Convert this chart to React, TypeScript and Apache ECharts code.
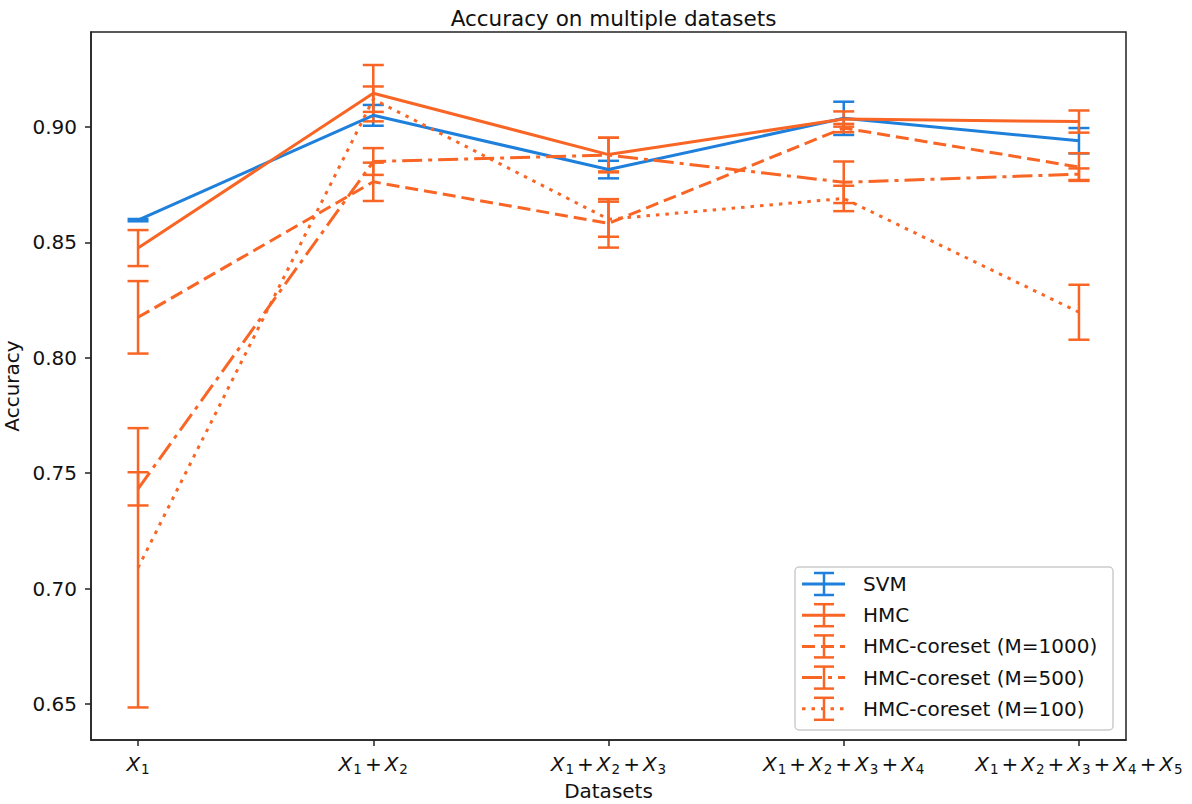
import React, { useEffect, useRef } from "react";
import * as echarts from "echarts";

const xIndex = [0, 1, 2, 3, 4];
const tickLabels = [
  "{x|X}{s|1}",
  "{x|X}{s|1}{p|+}{x|X}{s|2}",
  "{x|X}{s|1}{p|+}{x|X}{s|2}{p|+}{x|X}{s|3}",
  "{x|X}{s|1}{p|+}{x|X}{s|2}{p|+}{x|X}{s|3}{p|+}{x|X}{s|4}",
  "{x|X}{s|1}{p|+}{x|X}{s|2}{p|+}{x|X}{s|3}{p|+}{x|X}{s|4}{p|+}{x|X}{s|5}",
];
const yTicks = [0.65, 0.7, 0.75, 0.8, 0.85, 0.9];

const seriesNames = ["SVM", "HMC", "HMC-coreset (M=1000)", "HMC-coreset (M=500)", "HMC-coreset (M=100)"];

const svmMean = [0.8596, 0.905, 0.8815, 0.9037, 0.894];
const svmErr = [0.0005, 0.0045, 0.0038, 0.0072, 0.0055];
const hmcMean = [0.8475, 0.9146, 0.888, 0.9034, 0.9023];
const hmcErr = [0.0078, 0.0122, 0.0073, 0.0033, 0.0048];
const m1000Mean = [0.8175, 0.8762, 0.8582, 0.8995, 0.8826];
const m1000Err = [0.0157, 0.0083, 0.0105, 0.0018, 0.006];
const m500Mean = [0.7432, 0.885, 0.8878, 0.876, 0.8795];
const m500Err = [0.0072, 0.0058, 0.0075, 0.009, 0.0025];
const m100Mean = [0.709, 0.912, 0.86, 0.869, 0.8197];
const m100Err = [0.0605, 0.0055, 0.0076, 0.0055, 0.0119];

const BLUE = "#1f80dc";
const ORANGE = "#f96524";
const FONT = "DejaVu Sans";

const means = [svmMean, hmcMean, m1000Mean, m500Mean, m100Mean];
const errs = [svmErr, hmcErr, m1000Err, m500Err, m100Err];
const colors = [BLUE, ORANGE, ORANGE, ORANGE, ORANGE];
const dashes: any[] = ["solid", "solid", [13, 6], [20, 6, 4, 6], [3.5, 6]];

export default function App() {
  const ref = useRef<HTMLDivElement>(null);
  useEffect(() => {
    if (!ref.current) return;
    const chart = echarts.init(ref.current, null, { renderer: "svg" });
    const series: any[] = [];
    means.forEach((m, i) => {
      series.push({
        type: "line",
        name: seriesNames[i],
        data: xIndex.map((x, j) => [x, m[j]]),
        symbol: "none",
        lineStyle: { color: colors[i], width: 3, type: dashes[i], cap: "butt" },
        silent: true,
      });
      series.push({
        type: "custom",
        name: seriesNames[i] + " err",
        data: xIndex.map((x, j) => [x, m[j] - errs[i][j], m[j] + errs[i][j]]),
        encode: { x: 0, y: [1, 2] },
        silent: true,
        renderItem: (params: any, api: any) => {
          const x = api.value(0);
          const lo = api.coord([x, api.value(1)]);
          const hi = api.coord([x, api.value(2)]);
          const hw = 10.5;
          const st = { stroke: colors[i], lineWidth: 2.5 };
          return {
            type: "group",
            children: [
              { type: "line", shape: { x1: lo[0], y1: lo[1], x2: hi[0], y2: hi[1] }, style: st },
              { type: "line", shape: { x1: lo[0] - hw, y1: lo[1], x2: lo[0] + hw, y2: lo[1] }, style: st },
              { type: "line", shape: { x1: hi[0] - hw, y1: hi[1], x2: hi[0] + hw, y2: hi[1] }, style: st },
            ],
          };
        },
      });
    });

    const legendX = 795, legendY = 567, legendW = 318, legendH = 163;
    const legendChildren: any[] = [
      {
        type: "rect",
        shape: { x: legendX, y: legendY, width: legendW, height: legendH, r: 4 },
        style: { fill: "rgba(255,255,255,0.8)", stroke: "#cccccc", lineWidth: 1.5 },
      },
    ];
    seriesNames.forEach((n, i) => {
      const cy = 584 + i * 31.2;
      const st: any = { stroke: colors[i], lineWidth: 3 };
      if (dashes[i] !== "solid") st.lineDash = dashes[i];
      legendChildren.push({ type: "line", shape: { x1: 802, y1: cy, x2: 845, y2: cy }, style: st });
      const es = { stroke: colors[i], lineWidth: 2.5 };
      legendChildren.push({ type: "line", shape: { x1: 824, y1: cy - 11, x2: 824, y2: cy + 11 }, style: es });
      legendChildren.push({ type: "line", shape: { x1: 814, y1: cy - 11, x2: 834, y2: cy - 11 }, style: es });
      legendChildren.push({ type: "line", shape: { x1: 814, y1: cy + 11, x2: 834, y2: cy + 11 }, style: es });
      legendChildren.push({
        type: "text",
        style: { x: 863, y: cy, text: n, fontSize: 20, fontFamily: FONT, fill: "#111", verticalAlign: "middle", align: "left" },
      });
    });

    chart.setOption({
      animation: false,
      title: {
        text: "Accuracy on multiple datasets",
        left: 608.5,
        top: 2,
        textAlign: "center",
        textStyle: { fontSize: 21.5, fontWeight: "normal", color: "#111", fontFamily: FONT },
      },
      grid: {
        left: 91,
        top: 32,
        right: 66,
        bottom: 64,
        show: true,
        borderColor: "#222",
        borderWidth: 1.5,
        containLabel: false,
        outerBoundsMode: "none",
      },
      xAxis: {
        type: "value",
        min: -0.2,
        max: 4.2,
        name: "Datasets",
        nameLocation: "middle",
        nameGap: 40,
        nameTextStyle: { fontSize: 20, fontFamily: FONT, color: "#111" },
        axisLine: { show: true, onZero: false, lineStyle: { color: "#222", width: 1.5 } },
        axisTick: { show: true, customValues: xIndex, length: 6, lineStyle: { color: "#222", width: 1.5 } },
        splitLine: { show: false },
        axisLabel: {
          customValues: xIndex,
          margin: 12,
          formatter: (v: number) => tickLabels[Math.round(v)] ?? "",
          rich: {
            x: { fontSize: 20, fontStyle: "italic", fontFamily: FONT, color: "#111" },
            s: { fontSize: 13.5, fontFamily: FONT, color: "#111", padding: [10, 0, 0, 1] },
            p: { fontSize: 20, fontFamily: FONT, color: "#111", padding: [0, 3, 0, 3] },
          },
        },
      },
      yAxis: {
        type: "value",
        min: 0.6344,
        max: 0.9411,
        name: "Accuracy",
        nameLocation: "middle",
        nameGap: 68,
        nameTextStyle: { fontSize: 20, fontFamily: FONT, color: "#111" },
        axisLine: { show: true, onZero: false, lineStyle: { color: "#222", width: 1.5 } },
        axisTick: { show: true, customValues: yTicks, length: 6, lineStyle: { color: "#222", width: 1.5 } },
        splitLine: { show: false },
        axisLabel: {
          customValues: yTicks,
          margin: 14,
          formatter: (v: number) => v.toFixed(2),
          fontSize: 20,
          fontFamily: FONT,
          color: "#111",
        },
      },
      graphic: { elements: [{ type: "group", children: legendChildren, z: 100 }] },
      series,
    });
    return () => chart.dispose();
  }, []);
  return <div ref={ref} style={{ position: "absolute", left: 0, top: 0, width: 1192, height: 804 }} />;
}
